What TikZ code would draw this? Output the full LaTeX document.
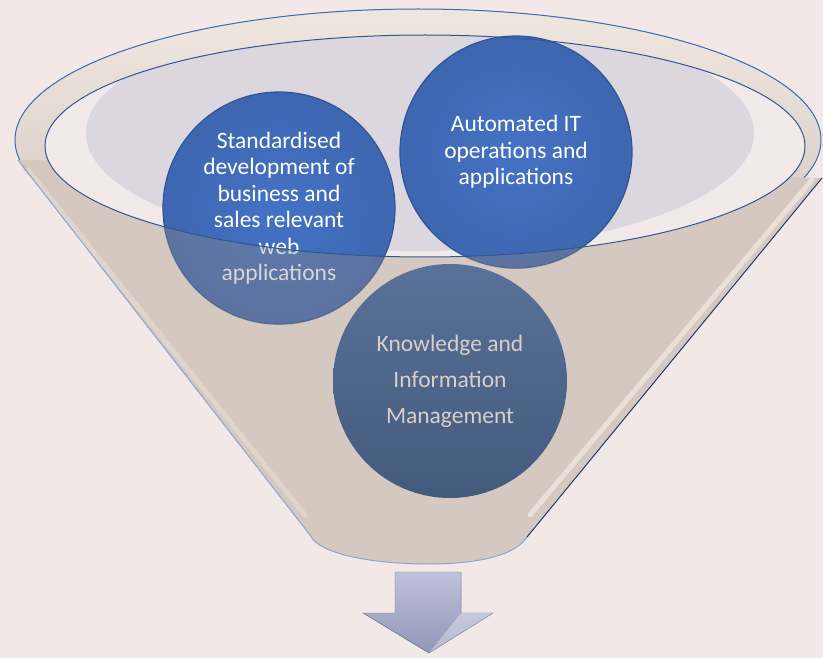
\documentclass[tikz,border=0pt]{standalone}
\usepackage{fontspec}
\setmainfont{Carlito}
\definecolor{bgpink}{HTML}{F3E8E8}
\definecolor{funneltan}{HTML}{D4C8C0}
\definecolor{rimcream}{HTML}{EEE7E0}
\definecolor{mouthpink}{HTML}{F2E9EA}
\definecolor{lavender}{HTML}{DCD6DE}
\definecolor{rimblue}{HTML}{3E6BB2}
\definecolor{ballblue}{HTML}{4472C4}
\definecolor{balledge}{HTML}{2F5597}
\definecolor{slateblue}{HTML}{506A93}
\definecolor{slatetext}{HTML}{D9CEC8}
\definecolor{arrowlav}{HTML}{A2A7CC}

\begin{document}
\begin{tikzpicture}[x=1pt, y=-1pt,
    topball/.style={circle, minimum size=232pt, inner sep=0pt,
      draw=balledge, line width=1.2pt,
      inner color=ballblue, outer color=ballblue!90!black,
      text=white, align=center,
      font=\fontsize{23.5}{26.5}\selectfont},
    lowball/.style={circle, minimum size=234pt, inner sep=0pt,
      top color=slateblue!95!white, bottom color=slateblue!85!black,
      text=slatetext, align=center,
      font=\fontsize{23.5}{36}\selectfont}]
  \useasboundingbox (0,0) rectangle (823,658);
  \fill[bgpink] (0,0) rectangle (823,658);

  % funnel body and rim
  \filldraw[draw=rimblue, line width=1pt, top color=rimcream, bottom color=funneltan]
    (418,140) ellipse [x radius=403, y radius=131];
  \fill[funneltan] (18,160) -- (310,535)
    .. controls (320,556) and (380,564) .. (428,564)
    .. controls (476,564) and (515,556) .. (527,537) -- (822,178) -- cycle;
  \draw[rimcream, line width=5pt, line cap=round, opacity=.8] (530,515) -- (812,180);
  \draw[rimcream!60!funneltan, line width=5pt, line cap=round, opacity=.7] (28,170) -- (305,515);
  \draw[rimblue!60, line width=1pt] (18,160) -- (310,535)
    .. controls (320,556) and (380,564) .. (428,564)
    .. controls (476,564) and (515,556) .. (527,537);
  \draw[balledge!70!black, line width=1pt] (527,537) -- (822,178);

  % mouth
  \fill[mouthpink] (425,146) ellipse [x radius=380, y radius=111];
  \begin{scope}
    \clip (425,146) ellipse [x radius=380, y radius=111];
    \fill[lavender] (420,133) ellipse [x radius=334, y radius=118];
  \end{scope}

  \node[topball] (web) at (279,208)
    {Standardised\\development of\\business and\\sales relevant\\web\\applications};
  \node[topball] (ops) at (516,152)
    {Automated IT\\operations and\\applications};

  % front of the funnel, over the lower halves of the balls
  \begin{scope}[even odd rule]
    \clip (18,160) -- (822,178) -- (822,658) -- (0,658) -- cycle;
    \clip (0,0) rectangle (823,658)
      (425,146) ellipse [x radius=380, y radius=111];
    \fill[funneltan!70!black, opacity=.35]
      (web) circle [radius=117] (ops) circle [radius=117];
  \end{scope}
  \draw[rimblue!80!black, line width=1pt] (425,146) ellipse [x radius=380, y radius=111];

  \node[lowball] (kim) at (450,381) {Knowledge and\\Information\\Management};

  \filldraw[draw=arrowlav!70!black, line width=.4pt,
    top color=arrowlav!70!white, bottom color=arrowlav!90!black]
    (395,572) -- (461,572) -- (461,613) -- (493,613) -- (429,653)
    -- (363,613) -- (395,613) -- cycle;
  \fill[white, opacity=.35] (429,653) -- (461,613) -- (493,613) -- cycle;
\end{tikzpicture}
\end{document}
